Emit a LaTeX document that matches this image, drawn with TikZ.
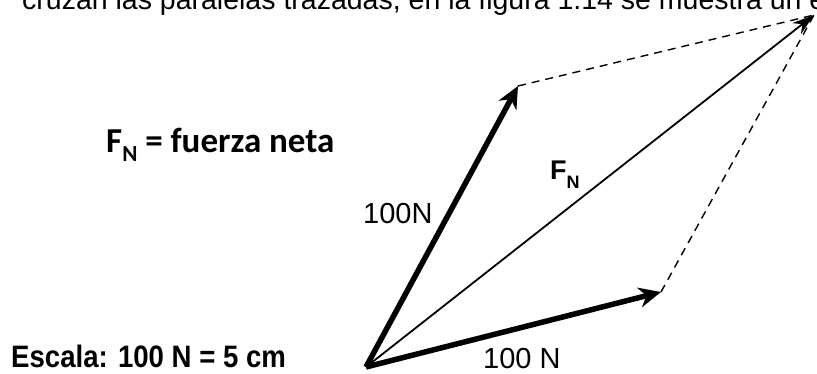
\documentclass[tikz,border=0pt]{standalone}
\usepackage{fontspec}
\setmainfont{Liberation Sans}
\newfontfamily\calib{Carlito}
\usetikzlibrary{arrows.meta}
\tikzset{
  vec/.style={line width=5.5pt,-{Stealth[length=22pt,width=20pt,inset=7pt]}},
  res/.style={line width=1.8pt,-{Stealth[length=22pt,width=14pt]}},
  par/.style={line width=1.4pt,dash pattern=on 8pt off 6pt},
  lbl/.style={inner sep=0pt,anchor=base west}
}
\begin{document}
\begin{tikzpicture}[x=1pt,y=-1pt]
\clip (0,0) rectangle (817,373);
\fill[white] (0,0) rectangle (817,373);
\node[lbl] (top) at (22,9) {\fontsize{28.5}{30}\selectfont cruzan las paralelas trazadas, en la figura 1.14 se muestra un e};
\coordinate (O) at (366,367);
\coordinate (A) at (518,86);
\coordinate (B) at (661,292);
\coordinate (R) at (814,15);
\draw[par] (A) -- (R);
\draw[par] (B) -- (R);
\draw[res] (O) -- (R);
\draw[vec] (O) -- (A);
\draw[vec] (O) -- (B);
\node[lbl] (def) at (106,152) {\calib\bfseries\fontsize{35}{38}\selectfont F\raisebox{-0.28em}{\fontsize{23}{25}\selectfont N} = fuerza neta};
\node[lbl] (la) at (363,223) {\fontsize{29}{31}\selectfont 100N};
\node[lbl] (lr) at (550,179) {\bfseries\fontsize{27}{30}\selectfont F\raisebox{-0.35em}{\fontsize{18}{20}\selectfont N}};
\node[lbl] (lb) at (483,368) {\fontsize{29}{32}\selectfont 100 N};
\node[lbl] (esc) at (11,367) {\scalebox{0.89}[1]{\bfseries\fontsize{31}{34}\selectfont Escala: 100 N = 5 cm}};
\end{tikzpicture}
\end{document}
